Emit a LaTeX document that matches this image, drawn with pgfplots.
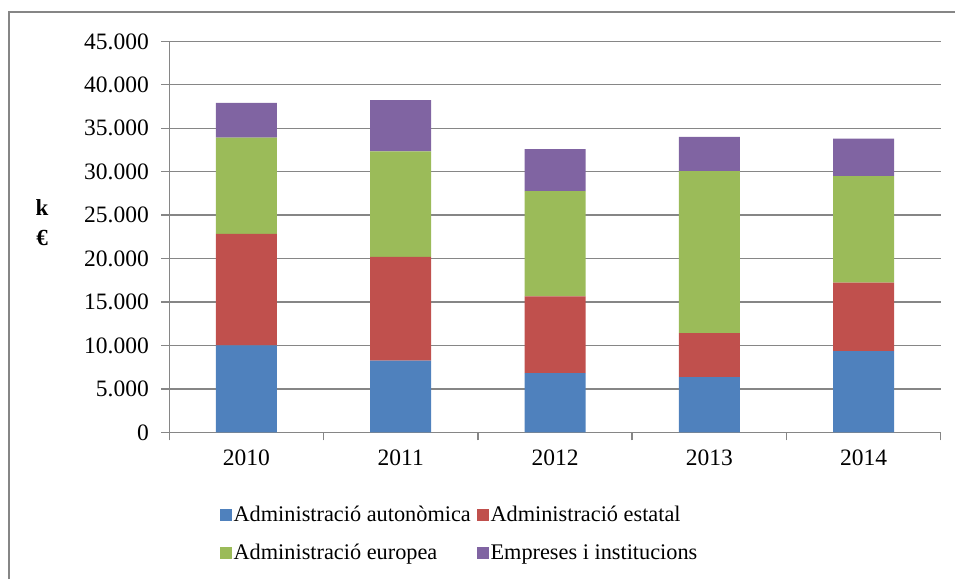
\documentclass[border=0pt]{standalone}
\usepackage{pgfplots}
\pgfplotsset{compat=1.18}
\usepackage{fontspec}
\setmainfont{Liberation Serif}
\definecolor{cblue}{RGB}{79,129,189}
\definecolor{cred}{RGB}{192,80,77}
\definecolor{cgreen}{RGB}{155,187,89}
\definecolor{cpurple}{RGB}{128,100,162}
\definecolor{gridgray}{RGB}{134,134,134}
\begin{document}
\begin{tikzpicture}[x=1pt,y=1pt]
\path[use as bounding box] (0,0) rectangle (955,579);
\draw[color=gridgray, line width=1.3pt] (9,0) -- (9,567) -- (960,567);
\node[font=\bfseries\fontsize{23}{30}\selectfont, align=center] at (42,356) {k\\€};
\begin{axis}[
  at={(169.3pt,146.7pt)}, anchor=south west,
  scale only axis, width=771.4pt, height=390.9pt,
  xmin=-0.5, xmax=4.5, ymin=0, ymax=45000,
  ybar stacked, bar width=61pt,
  xtick={0,1,2,3,4}, xticklabels={2010,2011,2012,2013,2014},
  major x tick style={draw=none},
  minor xtick={-0.5,0.5,1.5,2.5,3.5,4.5},
  ytick={0,5000,...,45000},
  tick align=outside,
  major tick length=8pt, minor tick length=8pt,
  axis x line*=bottom, axis y line*=left,
  axis line style={gridgray, line width=1.3pt},
  every tick/.style={gridgray, line width=1.3pt},
  ymajorgrids, grid style={gridgray, line width=1.3pt},
  scaled y ticks=false,
  /pgf/number format/1000 sep={.},
  /pgf/number format/assume math mode=true,
  ticklabel style={font=\fontsize{23.5}{28}\selectfont},
  xticklabel style={yshift=-6pt},
  yticklabel style={xshift=-9pt},
  legend columns=2,
  legend cell align=left,
  legend style={at={(0.0615,-0.181)}, anchor=north west, draw=none, fill=none,
    font=\fontsize{22.3}{26}\selectfont,
    /tikz/every even column/.append style={column sep=4pt},
    row sep=19pt, nodes={inner xsep=2pt, inner ysep=1pt}},
]
\addplot[fill=cblue, draw=none, legend image code/.code={\fill[cblue] (0pt,-5.85pt) rectangle (11.7pt,5.85pt);}]
  coordinates {(0,10000) (1,8260) (2,6810) (3,6350) (4,9340)};
\addlegendentry{Administració autonòmica}
\addplot[fill=cred, draw=none, legend image code/.code={\fill[cred] (0pt,-5.85pt) rectangle (11.7pt,5.85pt);}]
  coordinates {(0,12850) (1,11930) (2,8840) (3,5070) (4,7890)};
\addlegendentry{Administració estatal}
\addplot[fill=cgreen, draw=none, legend image code/.code={\fill[cgreen] (0pt,-5.85pt) rectangle (11.7pt,5.85pt);}]
  coordinates {(0,11070) (1,12150) (2,12110) (3,18650) (4,12270)};
\addlegendentry{Administració europea}
\addplot[fill=cpurple, draw=none, legend image code/.code={\fill[cpurple] (0pt,-5.85pt) rectangle (11.7pt,5.85pt);}]
  coordinates {(0,4000) (1,5890) (2,4850) (3,3930) (4,4300)};
\addlegendentry{Empreses i institucions}
\end{axis}
\end{tikzpicture}
\end{document}
